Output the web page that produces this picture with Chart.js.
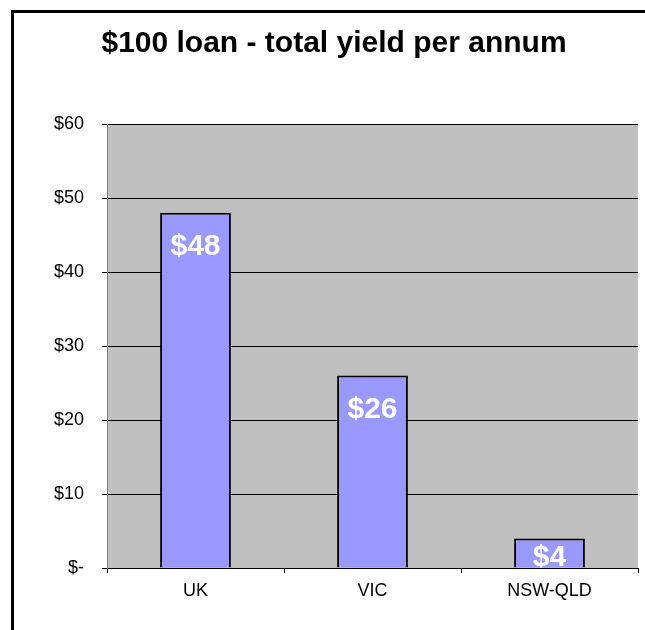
<!DOCTYPE html>
<html>
<head>
<meta charset="utf-8">
<script src="https://cdn.jsdelivr.net/npm/chart.js@4/dist/chart.umd.min.js"></script>
<style>
  html, body { margin: 0; padding: 0; background: #fff; overflow: hidden; }
  #wrap { position: relative; width: 645px; height: 630px; overflow: hidden; }
  #frame { position: absolute; left: 11px; top: 10px; width: 700px; height: 700px; border: 3px solid #000; box-sizing: border-box; }
  canvas { position: absolute; left: 0; top: 0; }
</style>
</head>
<body>
<div id="wrap">
  <div id="frame"></div>
  <canvas id="c" width="645" height="630"></canvas>
</div>
<script>
const chartTitle = '$100 loan - total yield per annum';
const categories = ['UK', 'VIC', 'NSW-QLD'];
const yieldValues = [48, 26, 4];
const valueLabels = ['$48', '$26', '$4'];
const yTickLabels = ['$-', '$10', '$20', '$30', '$40', '$50', '$60'];

const FONT = '"Liberation Sans", Arial, sans-serif';

const plotBg = {
  id: 'plotBg',
  beforeDraw(chart) {
    const { ctx, chartArea: a } = chart;
    ctx.save();
    ctx.fillStyle = '#C0C0C0';
    ctx.fillRect(a.left, a.top, a.right - a.left, a.bottom - a.top);
    ctx.restore();
  }
};

const titlePlugin = {
  id: 'titlePlugin',
  afterDraw(chart) {
    const ctx = chart.ctx;
    ctx.save();
    ctx.fillStyle = '#000';
    ctx.font = 'bold 30px ' + FONT;
    ctx.textAlign = 'center';
    ctx.textBaseline = 'alphabetic';
    ctx.fillText(chartTitle, 334, 52);
    ctx.restore();
  }
};

const valueLabelPlugin = {
  id: 'valueLabelPlugin',
  afterDatasetsDraw(chart) {
    const { ctx, chartArea: a } = chart;
    const meta = chart.getDatasetMeta(0);
    ctx.save();
    ctx.beginPath();
    ctx.rect(a.left, a.top, a.right - a.left, a.bottom - a.top);
    ctx.clip();
    ctx.fillStyle = '#fff';
    ctx.font = 'bold 30px ' + FONT;
    ctx.textAlign = 'center';
    ctx.textBaseline = 'alphabetic';
    meta.data.forEach((bar, i) => {
      let y = bar.y + 42;
      if (y > a.bottom - 2) y = a.bottom - 2;
      ctx.fillText(valueLabels[i], bar.x, y);
    });
    ctx.restore();
  }
};

new Chart(document.getElementById('c'), {
  type: 'bar',
  data: {
    labels: categories,
    datasets: [{
      data: yieldValues,
      backgroundColor: '#9999FF',
      borderColor: '#000',
      borderWidth: 2,
      barPercentage: 0.4,
      categoryPercentage: 1.0
    }]
  },
  options: {
    responsive: false,
    devicePixelRatio: 1,
    animation: false,
    layout: { padding: { top: 124, right: 7, left: 0, bottom: 0 } },
    plugins: {
      legend: { display: false },
      title: { display: false },
      tooltip: { enabled: false }
    },
    scales: {
      x: {
        afterFit(s) { s.height = 62; },
        grid: { display: true, drawOnChartArea: false, drawTicks: true, tickLength: 5, color: '#000', offset: true },
        border: { display: true, color: '#000', width: 1 },
        ticks: { color: '#000', font: { family: FONT, size: 18 }, padding: 7, maxRotation: 0 }
      },
      y: {
        min: 0,
        max: 60,
        afterFit(s) { s.width = 107; },
        grid: { color: '#000', lineWidth: 1, drawTicks: true, tickLength: 5 },
        border: { display: true, color: '#808080', width: 1 },
        ticks: {
          stepSize: 10,
          color: '#000',
          font: { family: FONT, size: 18 },
          padding: 18,
          callback: (v, i) => yTickLabels[i]
        }
      }
    }
  },
  plugins: [plotBg, titlePlugin, valueLabelPlugin]
});
</script>
</body>
</html>
